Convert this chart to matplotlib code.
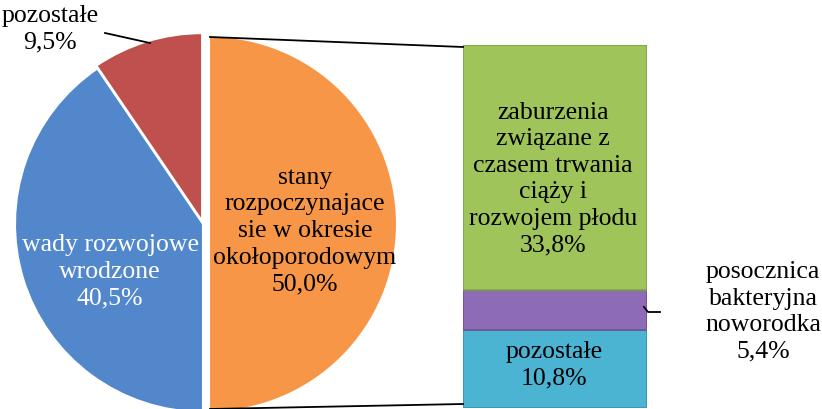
import matplotlib
matplotlib.use("Agg")
import matplotlib.pyplot as plt

# ---- data ----
pie_labels = ["stany\nrozpoczynajace\nsie w okresie\nokołoporodowym", "wady rozwojowe\nwrodzone", "pozostałe"]
pie_values = [50.0, 40.5, 9.5]
pie_colors = ["#F79646", "#5288CB", "#C0504D"]

bar_labels = ["pozostałe", "posocznica\nbakteryjna\nnoworodka", "zaburzenia\nzwiązane z\nczasem trwania\nciąży i\nrozwojem płodu"]
bar_values = [10.8, 5.4, 33.8]
bar_colors = ["#4BB4D2", "#8E6BB6", "#9FC459"]
bar_edges = ["#3A93AD", "#6E5290", "#80A444"]

def fmt(v):
    return f"{v:.1f}%".replace(".", ",")

W, H = 822, 409
plt.rcParams['font.family'] = ['Liberation Serif', 'DejaVu Serif']
FS = 18.5
LS = 1.27

fig = plt.figure(figsize=(W / 100, H / 100), dpi=100)

# bar of pie axes (drawn below the main overlay axes)
bx0, bx1, by0, by1 = 463, 647, 408, 45
bax = fig.add_axes([bx0 / W, (H - by0) / H, (bx1 - bx0) / W, (by0 - by1) / H])
bottom = 0
for v, c, e in zip(bar_values, bar_colors, bar_edges):
    bax.bar(0, v, bottom=bottom, width=1.0, color=c, edgecolor=e, linewidth=1.2)
    bottom += v
bax.set_xlim(-0.5, 0.5)
bax.set_ylim(0, sum(bar_values))
bax.axis("off")
bax.set_zorder(0)

ax = fig.add_axes([0, 0, 1, 1])
ax.set_zorder(1)

def py(y):
    return H - y

cx, cy, r = 203, 224, 188
ax.pie(pie_values, colors=pie_colors, startangle=90, counterclock=False,
       center=(cx, py(cy)), radius=r, explode=[6, 0, 3],
       wedgeprops=dict(edgecolor="white", linewidth=1.5))
ax.set_xlim(0, W)
ax.set_ylim(0, H)
ax.set_aspect("auto")
ax.axis("off")

# pie labels
ax.text(305, py(231), pie_labels[0] + "\n" + fmt(pie_values[0]), ha="center", va="center",
        fontsize=FS, linespacing=LS, color="black")
ax.text(110, py(272), pie_labels[1] + "\n" + fmt(pie_values[1]), ha="center", va="center",
        fontsize=FS, linespacing=LS, color="white")
ax.text(50, py(29), pie_labels[2] + "\n" + fmt(pie_values[2]), ha="center", va="center",
        fontsize=FS, linespacing=LS, color="black")
ax.plot([105, 150], [py(33), py(43)], color="black", lw=1.3)

# connector lines
ax.plot([210, 463], [py(37), py(47)], color="black", lw=1.3, zorder=5)
ax.plot([210, 463], [py(409), py(404)], color="black", lw=1.3, zorder=5)

ax.text(554, py(365), bar_labels[0] + "\n" + fmt(bar_values[0]), ha="center", va="center",
        fontsize=FS, linespacing=LS, color="black", zorder=10)
ax.text(553, py(179), bar_labels[2] + "\n" + fmt(bar_values[2]), ha="center", va="center",
        fontsize=FS, linespacing=LS, color="black", zorder=10)
ax.text(763, py(312), bar_labels[1] + "\n" + fmt(bar_values[1]), ha="center", va="center",
        fontsize=FS, linespacing=LS, color="black", zorder=10)
ax.plot([644, 648, 660], [py(307), py(312), py(312)], color="black", lw=1.3, zorder=10)

fig.savefig("out.png", dpi=100)
